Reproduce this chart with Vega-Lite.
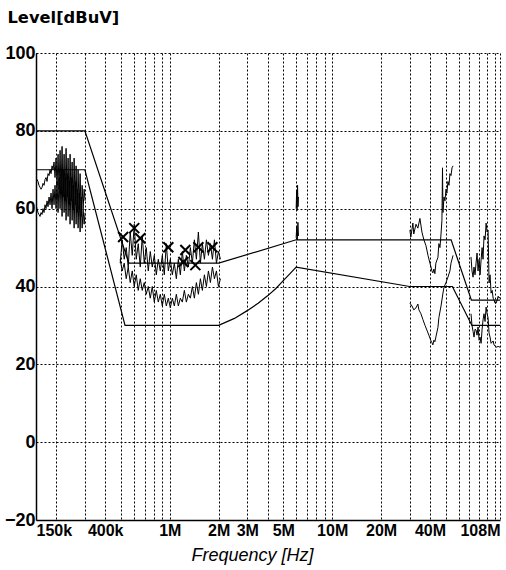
{
"$schema":"https://vega.github.io/schema/vega-lite/v6.json",
"width":464,"height":467,"autosize":"none",
"padding":{"left":36,"top":53,"right":6,"bottom":50},
"background":"white",
"config":{"view":{"stroke":null},"axis":{"labelFont":"Liberation Sans","titleFont":"Liberation Sans"}},
"datasets":{
"limits":[
{"f":150000,"v":80,"lim":"B"},{"f":300000,"v":80,"lim":"B"},{"f":560000,"v":46,"lim":"B"},{"f":2000000,"v":46,"lim":"B"},{"f":6000000,"v":52,"lim":"B"},{"f":54000000,"v":52,"lim":"B"},{"f":72000000,"v":36.5,"lim":"B"},{"f":108000000,"v":36.5,"lim":"B"},
{"f":150000,"v":70,"lim":"A"},{"f":300000,"v":70,"lim":"A"},{"f":530000,"v":30,"lim":"A"},{"f":2000000,"v":30,"lim":"A"},{"f":2500000,"v":31.8,"lim":"A"},{"f":3000000,"v":33.8,"lim":"A"},{"f":3500000,"v":35.7,"lim":"A"},{"f":4000000,"v":37.6,"lim":"A"},{"f":4500000,"v":39.5,"lim":"A"},{"f":5000000,"v":41.5,"lim":"A"},{"f":5500000,"v":43.3,"lim":"A"},{"f":6000000,"v":45,"lim":"A"},{"f":30000000,"v":40,"lim":"A"},{"f":55000000,"v":40,"lim":"A"},{"f":72500000,"v":30,"lim":"A"},{"f":108000000,"v":30,"lim":"A"}
],
"qp":[
{"f":516000,"v":52.7},{"f":604000,"v":55},{"f":658000,"v":52.4},{"f":979000,"v":50.1},{"f":1247000,"v":49.4},{"f":1500000,"v":50.1},{"f":1830000,"v":50.1},{"f":1212000,"v":46.3},{"f":1437000,"v":45.5}
],
"traces":[
{"f":150000,"v":68,"s":"p1"},{"f":152100,"v":67.5,"s":"p1"},{"f":154300,"v":67,"s":"p1"},{"f":156500,"v":66,"s":"p1"},{"f":158800,"v":65.5,"s":"p1"},{"f":161100,"v":65,"s":"p1"},{"f":163400,"v":65.5,"s":"p1"},{"f":165700,"v":66.5,"s":"p1"},{"f":168100,"v":66,"s":"p1"},{"f":170500,"v":67.5,"s":"p1"},{"f":172900,"v":68,"s":"p1"},{"f":175400,"v":67,"s":"p1"},{"f":177900,"v":69,"s":"p1"},{"f":180500,"v":68.5,"s":"p1"},{"f":183000,"v":70,"s":"p1"},{"f":185700,"v":69,"s":"p1"},{"f":188300,"v":71,"s":"p1"},{"f":191000,"v":70,"s":"p1"},{"f":193700,"v":72,"s":"p1"},{"f":196500,"v":68,"s":"p1"},{"f":199300,"v":73,"s":"p1"},{"f":202200,"v":66,"s":"p1"},{"f":205100,"v":74,"s":"p1"},{"f":208000,"v":65,"s":"p1"},{"f":211000,"v":75,"s":"p1"},{"f":214000,"v":64,"s":"p1"},{"f":217100,"v":76,"s":"p1"},{"f":220200,"v":63,"s":"p1"},{"f":223400,"v":74,"s":"p1"},{"f":226500,"v":62,"s":"p1"},{"f":229800,"v":75.5,"s":"p1"},{"f":233100,"v":63,"s":"p1"},{"f":236400,"v":73,"s":"p1"},{"f":239800,"v":61,"s":"p1"},{"f":243200,"v":74,"s":"p1"},{"f":246700,"v":62,"s":"p1"},{"f":250300,"v":72,"s":"p1"},{"f":253800,"v":60,"s":"p1"},{"f":257500,"v":73,"s":"p1"},{"f":261200,"v":61,"s":"p1"},{"f":264900,"v":71,"s":"p1"},{"f":268700,"v":59,"s":"p1"},{"f":272500,"v":70,"s":"p1"},{"f":276400,"v":60,"s":"p1"},{"f":280400,"v":69,"s":"p1"},{"f":284400,"v":58,"s":"p1"},{"f":288500,"v":66,"s":"p1"},{"f":292600,"v":60,"s":"p1"},{"f":296800,"v":65,"s":"p1"},{"f":301000,"v":62,"s":"p1"},
{"f":150000,"v":61,"s":"a1"},{"f":152100,"v":60,"s":"a1"},{"f":154300,"v":59,"s":"a1"},{"f":156500,"v":58.5,"s":"a1"},{"f":158800,"v":58,"s":"a1"},{"f":161100,"v":59,"s":"a1"},{"f":163400,"v":58.5,"s":"a1"},{"f":165700,"v":60,"s":"a1"},{"f":168100,"v":59,"s":"a1"},{"f":170500,"v":61,"s":"a1"},{"f":172900,"v":60,"s":"a1"},{"f":175400,"v":62,"s":"a1"},{"f":177900,"v":60.5,"s":"a1"},{"f":180500,"v":63,"s":"a1"},{"f":183000,"v":61,"s":"a1"},{"f":185700,"v":64,"s":"a1"},{"f":188300,"v":60,"s":"a1"},{"f":191000,"v":65,"s":"a1"},{"f":193700,"v":61,"s":"a1"},{"f":196500,"v":66,"s":"a1"},{"f":199300,"v":60,"s":"a1"},{"f":202200,"v":67,"s":"a1"},{"f":205100,"v":59,"s":"a1"},{"f":208000,"v":68,"s":"a1"},{"f":211000,"v":60,"s":"a1"},{"f":214000,"v":69,"s":"a1"},{"f":217100,"v":58,"s":"a1"},{"f":220200,"v":70,"s":"a1"},{"f":223400,"v":59,"s":"a1"},{"f":226500,"v":68,"s":"a1"},{"f":229800,"v":57,"s":"a1"},{"f":233100,"v":69,"s":"a1"},{"f":236400,"v":58,"s":"a1"},{"f":239800,"v":67,"s":"a1"},{"f":243200,"v":56,"s":"a1"},{"f":246700,"v":68,"s":"a1"},{"f":250300,"v":57,"s":"a1"},{"f":253800,"v":66,"s":"a1"},{"f":257500,"v":55,"s":"a1"},{"f":261200,"v":67,"s":"a1"},{"f":264900,"v":56,"s":"a1"},{"f":268700,"v":65,"s":"a1"},{"f":272500,"v":55,"s":"a1"},{"f":276400,"v":64,"s":"a1"},{"f":280400,"v":54,"s":"a1"},{"f":284400,"v":63,"s":"a1"},{"f":288500,"v":55,"s":"a1"},{"f":292600,"v":60,"s":"a1"},{"f":296800,"v":56,"s":"a1"},{"f":301000,"v":59,"s":"a1"},
{"f":495000,"v":46,"s":"p2"},{"f":509300,"v":52,"s":"p2"},{"f":524000,"v":47,"s":"p2"},{"f":539100,"v":50,"s":"p2"},{"f":554600,"v":45,"s":"p2"},{"f":570600,"v":54,"s":"p2"},{"f":587100,"v":48,"s":"p2"},{"f":604000,"v":56,"s":"p2"},{"f":621400,"v":47,"s":"p2"},{"f":639300,"v":51,"s":"p2"},{"f":657800,"v":45,"s":"p2"},{"f":676700,"v":53,"s":"p2"},{"f":696200,"v":46,"s":"p2"},{"f":716300,"v":50,"s":"p2"},{"f":737000,"v":44,"s":"p2"},{"f":758200,"v":49,"s":"p2"},{"f":780100,"v":45,"s":"p2"},{"f":802600,"v":48,"s":"p2"},{"f":825700,"v":43,"s":"p2"},{"f":849500,"v":47,"s":"p2"},{"f":874000,"v":44,"s":"p2"},{"f":899200,"v":48,"s":"p2"},{"f":925200,"v":43,"s":"p2"},{"f":951900,"v":51,"s":"p2"},{"f":979300,"v":44,"s":"p2"},{"f":1007500,"v":47,"s":"p2"},{"f":1036600,"v":43,"s":"p2"},{"f":1066500,"v":46,"s":"p2"},{"f":1097200,"v":42,"s":"p2"},{"f":1128900,"v":47,"s":"p2"},{"f":1161400,"v":43,"s":"p2"},{"f":1194900,"v":49,"s":"p2"},{"f":1229400,"v":44,"s":"p2"},{"f":1264800,"v":48,"s":"p2"},{"f":1301300,"v":45,"s":"p2"},{"f":1338800,"v":50,"s":"p2"},{"f":1377400,"v":46,"s":"p2"},{"f":1417100,"v":52,"s":"p2"},{"f":1458000,"v":47,"s":"p2"},{"f":1500000,"v":54,"s":"p2"},{"f":1543300,"v":46,"s":"p2"},{"f":1587800,"v":51,"s":"p2"},{"f":1633600,"v":47,"s":"p2"},{"f":1680700,"v":52,"s":"p2"},{"f":1729200,"v":48,"s":"p2"},{"f":1779000,"v":51,"s":"p2"},{"f":1830300,"v":47,"s":"p2"},{"f":1883100,"v":52,"s":"p2"},{"f":1937400,"v":46,"s":"p2"},{"f":1993300,"v":49,"s":"p2"},{"f":2050800,"v":47,"s":"p2"},
{"f":495000,"v":47,"s":"a2"},{"f":509300,"v":44,"s":"a2"},{"f":524000,"v":46,"s":"a2"},{"f":539100,"v":42,"s":"a2"},{"f":554600,"v":45,"s":"a2"},{"f":570600,"v":41,"s":"a2"},{"f":587100,"v":44,"s":"a2"},{"f":604000,"v":40,"s":"a2"},{"f":621400,"v":43,"s":"a2"},{"f":639300,"v":39,"s":"a2"},{"f":657800,"v":42,"s":"a2"},{"f":676700,"v":39,"s":"a2"},{"f":696200,"v":41,"s":"a2"},{"f":716300,"v":38,"s":"a2"},{"f":737000,"v":40,"s":"a2"},{"f":758200,"v":37,"s":"a2"},{"f":780100,"v":40,"s":"a2"},{"f":802600,"v":36,"s":"a2"},{"f":825700,"v":39,"s":"a2"},{"f":849500,"v":36,"s":"a2"},{"f":874000,"v":38,"s":"a2"},{"f":899200,"v":35,"s":"a2"},{"f":925200,"v":38,"s":"a2"},{"f":951900,"v":35,"s":"a2"},{"f":979300,"v":37,"s":"a2"},{"f":1007500,"v":34.5,"s":"a2"},{"f":1036600,"v":37,"s":"a2"},{"f":1066500,"v":35,"s":"a2"},{"f":1097200,"v":38,"s":"a2"},{"f":1128900,"v":35,"s":"a2"},{"f":1161400,"v":37,"s":"a2"},{"f":1194900,"v":36,"s":"a2"},{"f":1229400,"v":39,"s":"a2"},{"f":1264800,"v":36,"s":"a2"},{"f":1301300,"v":38,"s":"a2"},{"f":1338800,"v":37,"s":"a2"},{"f":1377400,"v":40,"s":"a2"},{"f":1417100,"v":37,"s":"a2"},{"f":1458000,"v":41,"s":"a2"},{"f":1500000,"v":38,"s":"a2"},{"f":1543300,"v":42,"s":"a2"},{"f":1587800,"v":39,"s":"a2"},{"f":1633600,"v":43,"s":"a2"},{"f":1680700,"v":40,"s":"a2"},{"f":1729200,"v":44,"s":"a2"},{"f":1779000,"v":41,"s":"a2"},{"f":1830300,"v":45,"s":"a2"},{"f":1883100,"v":42,"s":"a2"},{"f":1937400,"v":44,"s":"a2"},{"f":1993300,"v":40,"s":"a2"},{"f":2050800,"v":42,"s":"a2"},
{"f":6000000,"v":60,"s":"sp1"},{"f":6040000,"v":64.5,"s":"sp1"},{"f":6080000,"v":59.5,"s":"sp1"},{"f":6120000,"v":66,"s":"sp1"},{"f":6160000,"v":60.5,"s":"sp1"},{"f":6200000,"v":63,"s":"sp1"},
{"f":6000000,"v":52.5,"s":"sp2"},{"f":6050000,"v":55.5,"s":"sp2"},{"f":6100000,"v":52,"s":"sp2"},{"f":6150000,"v":56.5,"s":"sp2"},{"f":6200000,"v":53,"s":"sp2"},
{"f":30100000,"v":54.5,"s":"p4"},{"f":30500000,"v":52.7,"s":"p4"},{"f":31400000,"v":56.3,"s":"p4"},{"f":31800000,"v":53.5,"s":"p4"},{"f":32800000,"v":56,"s":"p4"},{"f":33700000,"v":55,"s":"p4"},{"f":34700000,"v":57.5,"s":"p4"},{"f":35700000,"v":54,"s":"p4"},{"f":36700000,"v":52,"s":"p4"},{"f":37800000,"v":50.5,"s":"p4"},{"f":38900000,"v":48,"s":"p4"},{"f":40000000,"v":46,"s":"p4"},{"f":40600000,"v":45,"s":"p4"},{"f":41100000,"v":44,"s":"p4"},{"f":41700000,"v":43.5,"s":"p4"},{"f":42300000,"v":44.5,"s":"p4"},{"f":42900000,"v":43.3,"s":"p4"},{"f":43500000,"v":46,"s":"p4"},{"f":44800000,"v":47.5,"s":"p4"},{"f":45400000,"v":51,"s":"p4"},{"f":46100000,"v":50,"s":"p4"},{"f":46800000,"v":53.5,"s":"p4"},{"f":47400000,"v":57,"s":"p4"},{"f":47800000,"v":70.5,"s":"p4"},{"f":48100000,"v":59,"s":"p4"},{"f":48800000,"v":63,"s":"p4"},{"f":49500000,"v":62,"s":"p4"},{"f":50200000,"v":65,"s":"p4"},{"f":50900000,"v":64,"s":"p4"},{"f":51600000,"v":67,"s":"p4"},{"f":52400000,"v":66,"s":"p4"},{"f":53100000,"v":69,"s":"p4"},{"f":53900000,"v":68.5,"s":"p4"},{"f":54700000,"v":70.5,"s":"p4"},{"f":55500000,"v":71,"s":"p4"},
{"f":30100000,"v":35.7,"s":"a4"},{"f":31000000,"v":35,"s":"a4"},{"f":31800000,"v":34,"s":"a4"},{"f":32800000,"v":34.5,"s":"a4"},{"f":33700000,"v":35.5,"s":"a4"},{"f":34200000,"v":34,"s":"a4"},{"f":35200000,"v":33,"s":"a4"},{"f":36200000,"v":31.5,"s":"a4"},{"f":37300000,"v":30,"s":"a4"},{"f":38300000,"v":28.8,"s":"a4"},{"f":39400000,"v":27.5,"s":"a4"},{"f":40600000,"v":26,"s":"a4"},{"f":41100000,"v":25.6,"s":"a4"},{"f":41700000,"v":25,"s":"a4"},{"f":42300000,"v":26.2,"s":"a4"},{"f":42900000,"v":25.8,"s":"a4"},{"f":43500000,"v":27,"s":"a4"},{"f":44800000,"v":29.5,"s":"a4"},{"f":45400000,"v":32,"s":"a4"},{"f":46800000,"v":35,"s":"a4"},{"f":48100000,"v":38.3,"s":"a4"},{"f":48800000,"v":39.8,"s":"a4"},{"f":50200000,"v":41,"s":"a4"},{"f":51600000,"v":42.4,"s":"a4"},{"f":53100000,"v":44,"s":"a4"},{"f":53900000,"v":46,"s":"a4"},{"f":55500000,"v":48,"s":"a4"},
{"f":71600000,"v":47.6,"s":"p5"},{"f":72600000,"v":44,"s":"p5"},{"f":73700000,"v":42.4,"s":"p5"},{"f":74700000,"v":45,"s":"p5"},{"f":75800000,"v":43,"s":"p5"},{"f":76900000,"v":46,"s":"p5"},{"f":78000000,"v":48.6,"s":"p5"},{"f":79100000,"v":44,"s":"p5"},{"f":80300000,"v":47,"s":"p5"},{"f":81400000,"v":43,"s":"p5"},{"f":82600000,"v":46.8,"s":"p5"},{"f":83800000,"v":50,"s":"p5"},{"f":84900000,"v":47,"s":"p5"},{"f":86100000,"v":53,"s":"p5"},{"f":87400000,"v":52,"s":"p5"},{"f":88700000,"v":56.3,"s":"p5"},{"f":89900000,"v":54,"s":"p5"},{"f":91200000,"v":54.5,"s":"p5"},{"f":92500000,"v":40.9,"s":"p5"},{"f":93800000,"v":43,"s":"p5"},{"f":95200000,"v":38.3,"s":"p5"},{"f":96600000,"v":39,"s":"p5"},{"f":98000000,"v":37,"s":"p5"},{"f":99300000,"v":36.5,"s":"p5"},{"f":100700000,"v":35.7,"s":"p5"},{"f":102200000,"v":35.7,"s":"p5"},{"f":103700000,"v":36.5,"s":"p5"},{"f":105200000,"v":37.5,"s":"p5"},{"f":106600000,"v":37,"s":"p5"},{"f":108000000,"v":37.3,"s":"p5"},
{"f":71600000,"v":33,"s":"a5"},{"f":72600000,"v":30,"s":"a5"},{"f":73700000,"v":28.5,"s":"a5"},{"f":74700000,"v":27,"s":"a5"},{"f":75800000,"v":29,"s":"a5"},{"f":76900000,"v":28.8,"s":"a5"},{"f":78000000,"v":27.5,"s":"a5"},{"f":79100000,"v":29.6,"s":"a5"},{"f":80300000,"v":26.2,"s":"a5"},{"f":81400000,"v":27,"s":"a5"},{"f":82600000,"v":25.4,"s":"a5"},{"f":83800000,"v":29,"s":"a5"},{"f":84900000,"v":31.4,"s":"a5"},{"f":86100000,"v":33,"s":"a5"},{"f":87400000,"v":31,"s":"a5"},{"f":88700000,"v":34.7,"s":"a5"},{"f":89900000,"v":33,"s":"a5"},{"f":91200000,"v":32,"s":"a5"},{"f":92500000,"v":28,"s":"a5"},{"f":93800000,"v":27,"s":"a5"},{"f":95200000,"v":25.4,"s":"a5"},{"f":98000000,"v":26,"s":"a5"},{"f":99300000,"v":25,"s":"a5"},{"f":102200000,"v":24.4,"s":"a5"},{"f":105200000,"v":24.6,"s":"a5"},{"f":108000000,"v":24.4,"s":"a5"}
]
},
"encoding":{
"x":{"field":"f","type":"quantitative","scale":{"type":"log","domain":[150000,108000000],"nice":false},
"axis":{"values":[150000,200000,300000,400000,500000,600000,700000,800000,900000,1000000,2000000,3000000,4000000,5000000,6000000,7000000,8000000,9000000,10000000,20000000,30000000,40000000,50000000,60000000,70000000,80000000,90000000,100000000,108000000],
"labelExpr":"datum.value == 150000 ? '150k' : datum.value == 400000 ? '400k' : datum.value == 1000000 ? '1M' : datum.value == 2000000 ? '2M' : datum.value == 3000000 ? '3M' : datum.value == 5000000 ? '5M' : datum.value == 10000000 ? '10M' : datum.value == 20000000 ? '20M' : datum.value == 40000000 ? '40M' : datum.value == 108000000 ? '108M' : ''",
"labelFlush":true,"labelOverlap":false,"labelBound":false,"grid":true,"gridColor":"black","gridDash":[2,2],"gridOpacity":1,"gridWidth":1,"ticks":false,"tickSize":0,"domainColor":"black","domainWidth":1.5,"labelColor":"black","labelFontSize":16,"labelFontWeight":"bold","labelPadding":2,
"title":"Frequency [Hz]","titleFontSize":18,"titleFontStyle":"italic","titleFontWeight":"normal","titleColor":"black","titleX":216,"titleY":40,"titleAlign":"center","titleBaseline":"alphabetic"}},
"y":{"field":"v","type":"quantitative","scale":{"domain":[-20,100],"nice":false,"zero":false},
"axis":{"values":[-20,0,20,40,60,80,100],"grid":true,"gridColor":"black","gridDash":[2,2],"gridOpacity":1,"gridWidth":1,"ticks":false,"tickSize":0,"domainColor":"black","domainWidth":1.5,"labelColor":"black","labelFontSize":18,"labelFontWeight":"bold","labelPadding":1,"labelFlush":false,"labelBound":false,"labelOverlap":false,
"title":"Level[dBuV]","titleAngle":0,"titleAlign":"left","titleBaseline":"alphabetic","titleX":-29,"titleY":-31,"titleFont":"DejaVu Sans","titleFontSize":16.3,"titleFontWeight":"bold","titleColor":"black"}}
},
"layer":[
{"data":{"name":"limits"},"mark":{"type":"line","color":"black","strokeWidth":1.2,"clip":true},"encoding":{"detail":{"field":"lim"}}},
{"data":{"name":"traces"},"mark":{"type":"line","color":"black","strokeWidth":1,"clip":true},"encoding":{"detail":{"field":"s"}}},
{"data":{"name":"qp"},"mark":{"type":"point","shape":"M-1,-1L1,1M1,-1L-1,1","color":"black","filled":false,"strokeWidth":2,"size":100,"opacity":1},"encoding":{}}
]
}
